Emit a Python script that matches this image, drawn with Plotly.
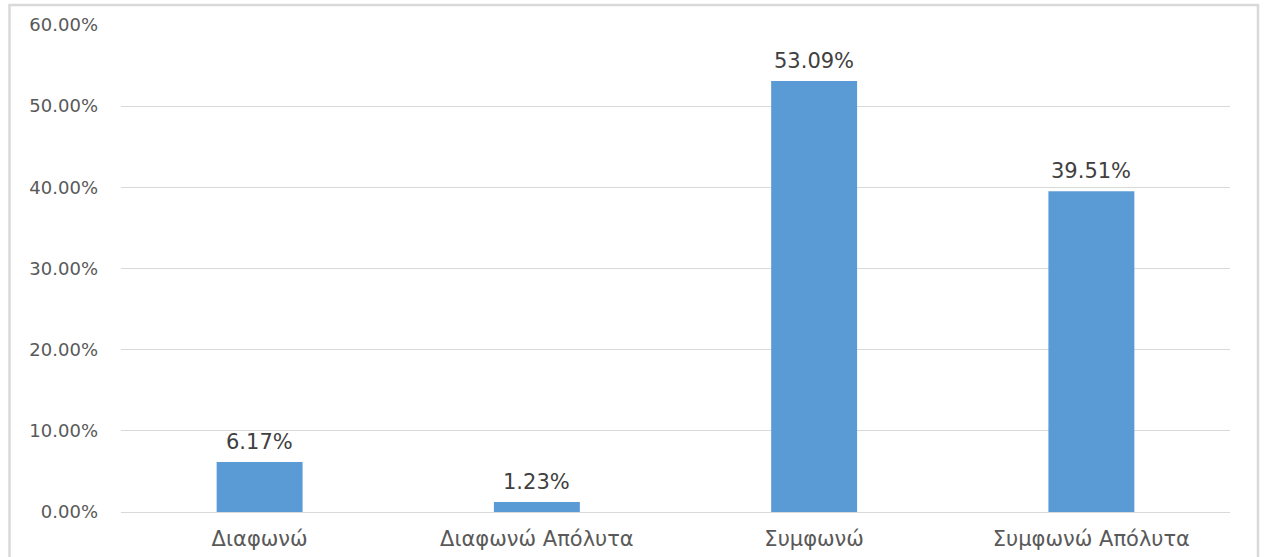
import plotly.graph_objects as go

# Survey responses (share of respondents, %)
categories = ["Διαφωνώ", "Διαφωνώ Απόλυτα", "Συμφωνώ", "Συμφωνώ Απόλυτα"]
shares = [6.17, 1.23, 53.09, 39.51]
y_ticks = [0, 10, 20, 30, 40, 50, 60]
y_tick_labels = [f"{t:.2f}%" for t in y_ticks]

W, H = 1264, 557
ml, mr, mt, mb = 121, 34, 25, 45
pw, ph = W - ml - mr, H - mt - mb

fig = go.Figure(
    go.Bar(
        x=categories,
        y=shares,
        marker=dict(color="#5B9BD5", line=dict(width=0)),
        width=0.31,
        hoverinfo="skip",
    )
)

# Value labels above each bar
for c, v in zip(categories, shares):
    fig.add_annotation(
        x=c, y=v, text=f"{v:.2f}%", showarrow=False,
        yanchor="middle", yshift=20,
        font=dict(family="DejaVu Sans", size=21, color="#404040"),
    )

# Outer frame around the chart area
def px_x(x):
    return (x - ml) / pw

def px_y(y):
    return (H - mb - y) / ph

fig.add_shape(
    type="rect", xref="paper", yref="paper",
    x0=px_x(9.5), x1=px_x(1258), y0=px_y(560), y1=px_y(5),
    line=dict(color="#d9d9d9", width=2.5), fillcolor="rgba(0,0,0,0)",
    layer="below",
)

fig.update_layout(
    width=W, height=H,
    margin=dict(l=ml, r=mr, t=mt, b=mb, pad=0, autoexpand=False),
    paper_bgcolor="white", plot_bgcolor="white",
    showlegend=False,
    font=dict(family="DejaVu Sans", color="#595959"),
    xaxis=dict(
        showgrid=False, showline=False, zeroline=False, automargin=False,
        ticks="", ticklabelstandoff=12,
        tickfont=dict(family="DejaVu Sans", size=21, color="#595959"),
    ),
    yaxis=dict(
        range=[0, 60], tickvals=y_ticks, ticktext=y_tick_labels,
        automargin=False,
        showgrid=True, gridcolor="#d9d9d9", gridwidth=1,
        zeroline=True, zerolinecolor="#d9d9d9", zerolinewidth=1,
        showline=False, ticks="", ticklabelstandoff=22,
        tickfont=dict(family="DejaVu Sans", size=18, color="#595959"),
    ),
)

fig.write_html("out.html")
